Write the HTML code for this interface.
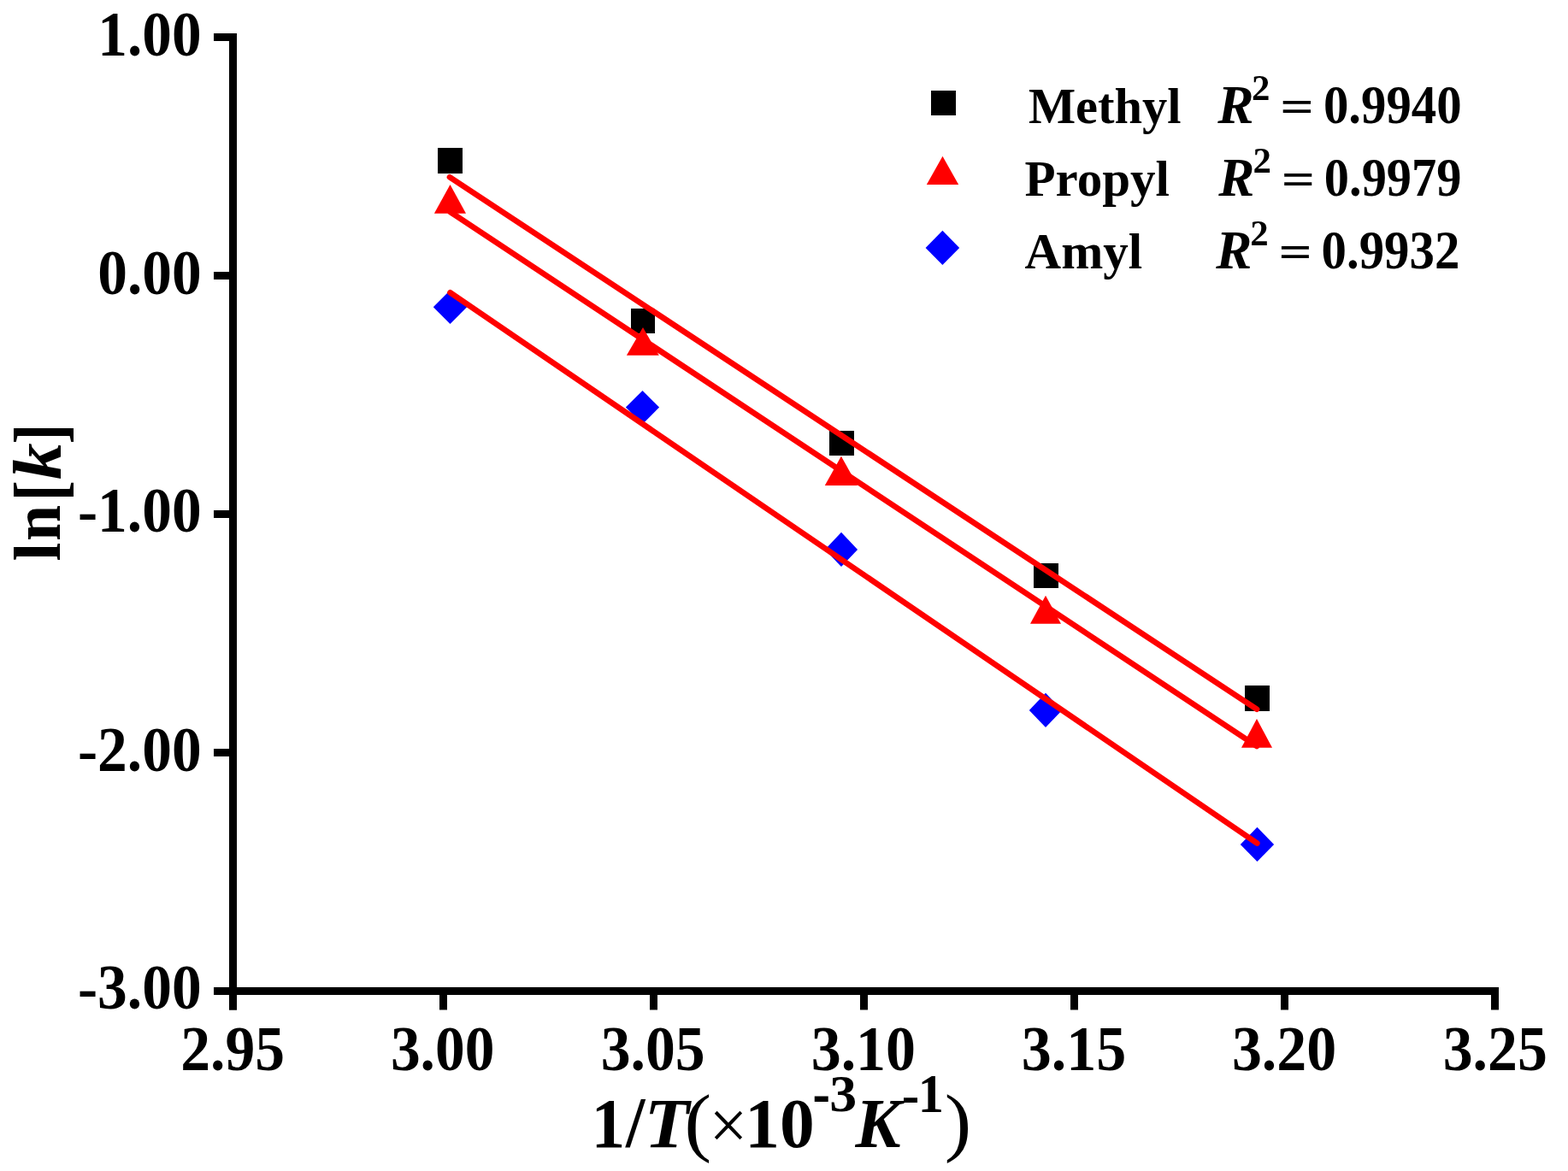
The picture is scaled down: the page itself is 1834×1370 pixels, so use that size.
<!DOCTYPE html>
<html><head><meta charset="utf-8"><title>Arrhenius plot</title>
<style>
html,body{margin:0;padding:0;background:#fff;}
body{width:1834px;height:1370px;overflow:hidden;}
svg{display:block;}
text{font-family:"Liberation Serif","Times New Roman",serif;}
</style></head><body>
<svg width="1834" height="1370" viewBox="0 0 1834 1370">
<rect width="1834" height="1370" fill="#fff"/>
<rect x="268" y="39" width="9" height="1142.5" fill="#000"/>
<rect x="250" y="1155" width="1503" height="9" fill="#000"/>
<rect x="250" y="39.00" width="27" height="9" fill="#000"/>
<rect x="250" y="318.00" width="27" height="9" fill="#000"/>
<rect x="250" y="597.00" width="27" height="9" fill="#000"/>
<rect x="250" y="876.00" width="27" height="9" fill="#000"/>
<rect x="250" y="1155.00" width="27" height="9" fill="#000"/>
<rect x="268.00" y="1155" width="9" height="26.5" fill="#000"/>
<rect x="514.00" y="1155" width="9" height="26.5" fill="#000"/>
<rect x="760.00" y="1155" width="9" height="26.5" fill="#000"/>
<rect x="1006.00" y="1155" width="9" height="26.5" fill="#000"/>
<rect x="1252.00" y="1155" width="9" height="26.5" fill="#000"/>
<rect x="1498.00" y="1155" width="9" height="26.5" fill="#000"/>
<rect x="1744.00" y="1155" width="9" height="26.5" fill="#000"/>
<text transform="translate(114.32 64.60) scale(0.9463 1.0000)" font-size="73.24" style="font-weight:bold" fill="#000">1.00</text>
<text transform="translate(114.20 343.90) scale(0.9443 1.0000)" font-size="73.53" style="font-weight:bold" fill="#000">0.00</text>
<text transform="translate(91.00 621.80) scale(0.9444 1.0000)" font-size="73.53" style="font-weight:bold" fill="#000">-1.00</text>
<text transform="translate(91.00 901.89) scale(0.9425 1.0000)" font-size="73.68" style="font-weight:bold" fill="#000">-2.00</text>
<text transform="translate(91.00 1179.79) scale(0.9406 1.0000)" font-size="73.82" style="font-weight:bold" fill="#000">-3.00</text>
<text transform="translate(211.24 1252.08) scale(0.9316 1.0000)" font-size="74.69" style="font-weight:bold" fill="#000">2.95</text>
<text transform="translate(456.90 1252.08) scale(0.9331 1.0000)" font-size="74.41" style="font-weight:bold" fill="#000">3.00</text>
<text transform="translate(702.69 1252.08) scale(0.9363 1.0000)" font-size="74.41" style="font-weight:bold" fill="#000">3.05</text>
<text transform="translate(948.68 1252.08) scale(0.9395 1.0000)" font-size="74.41" style="font-weight:bold" fill="#000">3.10</text>
<text transform="translate(1194.77 1252.08) scale(0.9385 1.0000)" font-size="74.69" style="font-weight:bold" fill="#000">3.15</text>
<text transform="translate(1440.88 1252.08) scale(0.9395 1.0000)" font-size="74.41" style="font-weight:bold" fill="#000">3.20</text>
<text transform="translate(1687.68 1252.08) scale(0.9345 1.0000)" font-size="74.69" style="font-weight:bold" fill="#000">3.25</text>
<rect x="512.00" y="173.00" width="29.00" height="30.00" fill="#000"/>
<rect x="738.00" y="361.00" width="28.00" height="29.00" fill="#000"/>
<rect x="970.00" y="504.00" width="29.00" height="29.00" fill="#000"/>
<rect x="1209.00" y="659.00" width="29.00" height="29.00" fill="#000"/>
<rect x="1456.00" y="802.00" width="29.00" height="30.00" fill="#000"/>
<polygon points="526.50,216.00 545.00,249.80 507.90,249.80" fill="#ff0000"/>
<polygon points="752.00,382.90 770.80,415.80 732.90,415.80" fill="#ff0000"/>
<polygon points="983.90,533.85 1003.00,567.95 964.80,567.95" fill="#ff0000"/>
<polygon points="1223.00,696.80 1241.00,729.80 1205.00,729.80" fill="#ff0000"/>
<polygon points="1470.00,840.90 1488.00,874.70 1452.00,874.70" fill="#ff0000"/>
<polygon points="526.50,339.60 546.20,359.30 526.50,379.00 506.80,359.30" fill="#0000ff"/>
<polygon points="751.50,456.90 771.10,476.60 751.50,496.30 731.90,476.60" fill="#0000ff"/>
<polygon points="984.00,622.80 1003.10,642.90 984.00,663.00 964.90,642.90" fill="#0000ff"/>
<polygon points="1223.00,810.80 1242.20,830.90 1223.00,851.00 1203.80,830.90" fill="#0000ff"/>
<polygon points="1470.45,967.80 1490.10,987.90 1470.45,1008.00 1450.80,987.90" fill="#0000ff"/>
<line x1="526.00" y1="207.25" x2="1470.00" y2="829.75" stroke="#ff0000" stroke-width="6.7" stroke-linecap="round"/>
<line x1="526.50" y1="247.85" x2="1470.00" y2="872.95" stroke="#ff0000" stroke-width="6.7" stroke-linecap="round"/>
<line x1="526.50" y1="342.30" x2="1470.30" y2="986.50" stroke="#ff0000" stroke-width="6.7" stroke-linecap="round"/>
<rect x="1089.00" y="106.00" width="29.00" height="29.00" fill="#000"/>
<polygon points="1102.50,182.70 1121.20,215.90 1083.80,215.90" fill="#ff0000"/>
<polygon points="1102.40,269.80 1122.20,289.90 1102.40,310.00 1082.60,289.90" fill="#0000ff"/>
<text transform="translate(1202.88 143.99) scale(0.9818 1.0000)" font-size="59.56" style="font-weight:bold" fill="#000">Methyl</text>
<text transform="translate(1198.47 229.02) scale(0.9865 1.0000)" font-size="59.89" style="font-weight:bold" fill="#000">Propyl</text>
<text transform="translate(1198.61 313.78) scale(0.9808 1.0000)" font-size="60.11" style="font-weight:bold" fill="#000">Amyl</text>
<text transform="translate(1424.16 143.70) scale(1.0143 1.0000)" font-size="62.60" style="font-weight:bold;font-style:italic" fill="#000">R</text>
<text transform="translate(1463.98 117.00) scale(1.0041 1.0000)" font-size="42.72" style="font-weight:bold" fill="#000">2</text>
<text transform="translate(1497.23 141.71) scale(1.2934 1.0000)" font-size="53.70" style="font-weight:bold" fill="#000">=</text>
<text transform="translate(1547.89 143.66) scale(0.9349 1.0000)" font-size="62.94" style="font-weight:bold" fill="#000">0.9940</text>
<text transform="translate(1425.36 228.90) scale(1.0044 1.0000)" font-size="62.90" style="font-weight:bold;font-style:italic" fill="#000">R</text>
<text transform="translate(1465.38 202.00) scale(1.0185 1.0000)" font-size="42.11" style="font-weight:bold" fill="#000">2</text>
<text transform="translate(1498.65 226.71) scale(1.2854 1.0000)" font-size="53.70" style="font-weight:bold" fill="#000">=</text>
<text transform="translate(1548.81 228.66) scale(0.9286 1.0000)" font-size="62.94" style="font-weight:bold" fill="#000">0.9979</text>
<text transform="translate(1422.36 313.90) scale(1.0044 1.0000)" font-size="62.90" style="font-weight:bold;font-style:italic" fill="#000">R</text>
<text transform="translate(1462.28 287.00) scale(1.0041 1.0000)" font-size="42.72" style="font-weight:bold" fill="#000">2</text>
<text transform="translate(1495.56 311.71) scale(1.2814 1.0000)" font-size="53.70" style="font-weight:bold" fill="#000">=</text>
<text transform="translate(1545.59 313.66) scale(0.9348 1.0000)" font-size="62.94" style="font-weight:bold" fill="#000">0.9932</text>
<text transform="translate(70.00 656.48) rotate(-90) scale(1.0135 1.0000)" font-size="77.70" style="font-weight:bold" fill="#000">l</text>
<text transform="translate(70.00 632.99) rotate(-90) scale(0.9388 1.0000)" font-size="80.85" style="font-weight:bold" fill="#000">n</text>
<text transform="translate(74.62 586.33) rotate(-90) scale(0.8587 1.0000)" font-size="84.27" style="font-weight:bold" fill="#000">[</text>
<text transform="translate(70.80 561.29) rotate(-90) scale(1.0695 1.0000)" font-size="80.29" style="font-weight:bold;font-style:italic" fill="#000">k</text>
<text transform="translate(74.62 519.49) rotate(-90) scale(0.8439 1.0000)" font-size="84.27" style="font-weight:bold" fill="#000">]</text>
<text transform="translate(691.54 1342.00) scale(0.9517 1.0000)" font-size="83.48" style="font-weight:bold" fill="#000">1</text>
<text transform="translate(731.91 1341.96) scale(0.9633 1.0000)" font-size="83.75" style="font-weight:bold" fill="#000">/</text>
<text transform="translate(753.78 1342.00) scale(1.0348 1.0000)" font-size="82.90" style="font-weight:bold;font-style:italic" fill="#000">T</text>
<text transform="translate(800.53 1341.80) scale(1.0672 1.0000)" font-size="88.93" style="font-weight:normal" fill="#000">(</text>
<text transform="translate(829.54 1343.59) scale(0.9758 1.0000)" font-size="81.48" style="font-weight:normal" fill="#000">×</text>
<text transform="translate(871.29 1342.17) scale(0.9789 1.0000)" font-size="83.11" style="font-weight:bold" fill="#000">10</text>
<text transform="translate(950.59 1304.49) scale(0.8173 1.0000)" font-size="75.29" style="font-weight:bold" fill="#000">-</text>
<text transform="translate(970.31 1299.88) scale(1.0299 1.0000)" font-size="62.01" style="font-weight:bold" fill="#000">3</text>
<text transform="translate(1000.50 1341.90) scale(0.9654 1.0000)" font-size="82.44" style="font-weight:bold;font-style:italic" fill="#000">K</text>
<text transform="translate(1054.69 1302.94) scale(0.9019 1.0000)" font-size="68.24" style="font-weight:bold" fill="#000">-</text>
<text transform="translate(1073.87 1300.90) scale(0.9515 1.0000)" font-size="63.48" style="font-weight:bold" fill="#000">1</text>
<text transform="translate(1104.63 1341.83) scale(1.0573 1.0000)" font-size="89.26" style="font-weight:normal" fill="#000">)</text>
</svg>
</body></html>
